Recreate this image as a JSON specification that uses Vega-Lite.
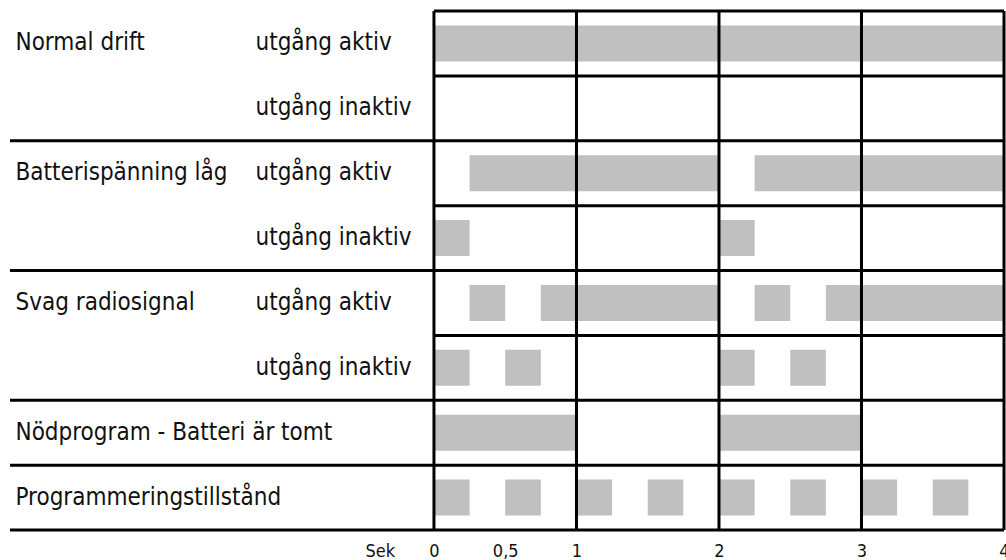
{
  "$schema": "https://vega.github.io/schema/vega-lite/v6.json",
  "width": 994,
  "height": 519,
  "autosize": {"type": "none"},
  "padding": {"left": 10, "top": 11, "right": 2, "bottom": 30},
  "background": "white",
  "config": {
    "view": {"stroke": null},
    "font": "DejaVu Sans Condensed, Liberation Sans Narrow, Liberation Sans",
    "axis": {"grid": false, "domain": false, "ticks": false, "tickSize": 0, "title": null, "labelFont": "DejaVu Sans Condensed, Liberation Sans Narrow, Liberation Sans", "labelColor": "#111111", "labelLimit": 1000}
  },
  "datasets": {
    "rows": [
      {"signal": "Normal drift / utgång aktiv"},
      {"signal": "Normal drift / utgång inaktiv"},
      {"signal": "Batterispänning låg / utgång aktiv"},
      {"signal": "Batterispänning låg / utgång inaktiv"},
      {"signal": "Svag radiosignal / utgång aktiv"},
      {"signal": "Svag radiosignal / utgång inaktiv"},
      {"signal": "Nödprogram - Batteri är tomt"},
      {"signal": "Programmeringstillstånd"}
    ],
    "segments": [
      {"signal": "Normal drift / utgång aktiv", "start": 0, "end": 4},
      {"signal": "Batterispänning låg / utgång aktiv", "start": 0.25, "end": 2},
      {"signal": "Batterispänning låg / utgång aktiv", "start": 2.25, "end": 4},
      {"signal": "Batterispänning låg / utgång inaktiv", "start": 0, "end": 0.25},
      {"signal": "Batterispänning låg / utgång inaktiv", "start": 2, "end": 2.25},
      {"signal": "Svag radiosignal / utgång aktiv", "start": 0.25, "end": 0.5},
      {"signal": "Svag radiosignal / utgång aktiv", "start": 0.75, "end": 2},
      {"signal": "Svag radiosignal / utgång aktiv", "start": 2.25, "end": 2.5},
      {"signal": "Svag radiosignal / utgång aktiv", "start": 2.75, "end": 4},
      {"signal": "Svag radiosignal / utgång inaktiv", "start": 0, "end": 0.25},
      {"signal": "Svag radiosignal / utgång inaktiv", "start": 0.5, "end": 0.75},
      {"signal": "Svag radiosignal / utgång inaktiv", "start": 2, "end": 2.25},
      {"signal": "Svag radiosignal / utgång inaktiv", "start": 2.5, "end": 2.75},
      {"signal": "Nödprogram - Batteri är tomt", "start": 0, "end": 1},
      {"signal": "Nödprogram - Batteri är tomt", "start": 2, "end": 3},
      {"signal": "Programmeringstillstånd", "start": 0, "end": 0.25},
      {"signal": "Programmeringstillstånd", "start": 0.5, "end": 0.75},
      {"signal": "Programmeringstillstånd", "start": 1, "end": 1.25},
      {"signal": "Programmeringstillstånd", "start": 1.5, "end": 1.75},
      {"signal": "Programmeringstillstånd", "start": 2, "end": 2.25},
      {"signal": "Programmeringstillstånd", "start": 2.5, "end": 2.75},
      {"signal": "Programmeringstillstånd", "start": 3, "end": 3.25},
      {"signal": "Programmeringstillstånd", "start": 3.5, "end": 3.75}
    ],
    "seconds": [{"t": 0}, {"t": 1}, {"t": 2}, {"t": 3}, {"t": 4}]
  },
  "resolve": {"axis": {"y": "independent"}},
  "layer": [
    {
      "data": {"name": "segments"},
      "mark": {"type": "bar", "color": "#c0c0c0", "height": {"band": 0.555}},
      "encoding": {
        "x": {
          "field": "start", "type": "quantitative",
          "scale": {"domain": [-2.975, 4], "nice": false, "zero": false},
          "axis": {
            "orient": "bottom",
            "values": [-0.38, 0, 0.5, 1, 2, 3, 4],
            "labelExpr": "datum.value < 0 ? 'Sek' : replace(format(datum.value, '~g'), '.', ',')",
            "labelFontSize": 18,
            "labelBaseline": "top",
            "labelPadding": 12,
            "labelFlush": false,
            "labelOverlap": false
          }
        },
        "x2": {"field": "end"},
        "y": {
          "field": "signal", "type": "nominal",
          "scale": {
            "type": "band", "paddingInner": 0, "paddingOuter": 0,
            "domain": [
              "Normal drift / utgång aktiv",
              "Normal drift / utgång inaktiv",
              "Batterispänning låg / utgång aktiv",
              "Batterispänning låg / utgång inaktiv",
              "Svag radiosignal / utgång aktiv",
              "Svag radiosignal / utgång inaktiv",
              "Nödprogram - Batteri är tomt",
              "Programmeringstillstånd"
            ]
          },
          "axis": {
            "orient": "left",
            "labelExpr": "indexof(datum.value, 'inaktiv') >= 0 ? '' : split(datum.value, ' / ')[0]",
            "labelAlign": "left",
            "labelBaseline": "middle",
            "labelPadding": -5,
            "labelFontSize": 24
          }
        }
      }
    },
    {
      "data": {"name": "rows"},
      "transform": [{"filter": "indexof(datum.signal, 'utgång aktiv') < 0"}],
      "mark": {"type": "rule", "color": "black", "strokeWidth": 3},
      "encoding": {
        "y": {
          "field": "signal", "type": "nominal", "bandPosition": 1,
          "axis": {
            "orient": "left",
            "labelExpr": "indexof(datum.value, ' / ') >= 0 ? split(datum.value, ' / ')[1] : ''",
            "labelAlign": "left",
            "labelBaseline": "middle",
            "labelPadding": -245,
            "labelFontSize": 24
          }
        }
      }
    },
    {
      "data": {"name": "rows"},
      "transform": [{"filter": "indexof(datum.signal, 'utgång aktiv') >= 0"}],
      "mark": {"type": "rule", "color": "black", "strokeWidth": 3},
      "encoding": {
        "y": {"field": "signal", "type": "nominal", "bandPosition": 1, "axis": null},
        "x": {"datum": 0, "type": "quantitative"},
        "x2": {"datum": 4}
      }
    },
    {
      "data": {"name": "rows"},
      "transform": [{"filter": "datum.signal == 'Normal drift / utgång aktiv'"}],
      "mark": {"type": "rule", "color": "black", "strokeWidth": 3},
      "encoding": {
        "y": {"field": "signal", "type": "nominal", "bandPosition": 0, "axis": null},
        "x": {"datum": 0, "type": "quantitative"},
        "x2": {"datum": 4}
      }
    },
    {
      "data": {"name": "seconds"},
      "mark": {"type": "rule", "color": "black", "strokeWidth": 3},
      "encoding": {
        "x": {"field": "t", "type": "quantitative"}
      }
    }
  ]
}
